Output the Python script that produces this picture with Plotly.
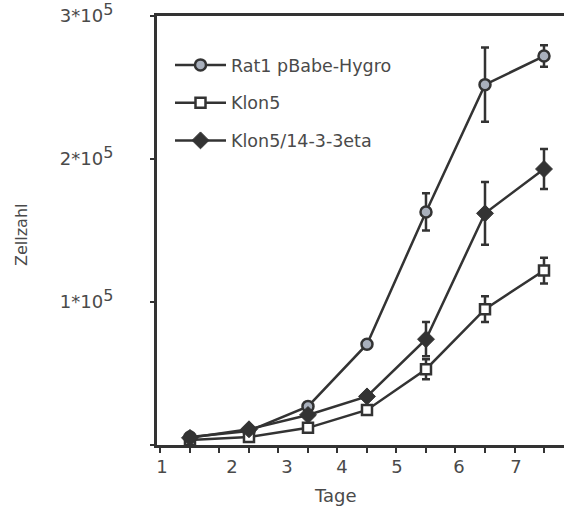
import plotly.graph_objects as go

days = [1, 2, 3, 4, 5, 6, 7]
tick_labels = ["1", "2", "3", "4", "5", "6", "7"]
y_tick_vals = [0, 100000, 200000, 300000]
SUP = '<sup><span style="font-size:16px">5</span></sup>'
y_tick_text = ["", "1*10" + SUP, "2*10" + SUP, "3*10" + SUP]

names = ["Rat1 pBabe-Hygro", "Klon5", "Klon5/14-3-3eta"]
rat1 = [5600, 9800, 27000, 70500, 163000, 252000, 272000]
rat1_err = [0, 0, 0, 0, 13000, 26000, 7500]
klon5 = [3500, 5600, 12000, 24500, 53000, 95000, 122000]
klon5_err = [0, 0, 0, 0, 7000, 9000, 9000]
klon5eta = [5000, 11000, 21000, 34000, 74000, 162000, 193000]
klon5eta_err = [0, 0, 0, 0, 12000, 22000, 14000]

LC = "#333333"
TXT = "#4a4a4a"
FONT = "DejaVu Sans"

fig = go.Figure()
series = [
    (names[0], rat1, rat1_err, dict(symbol="circle", size=11, color="#a9b0bc", line=dict(color=LC, width=2.5))),
    (names[1], klon5, klon5_err, dict(symbol="square", size=10, color="white", line=dict(color=LC, width=2.5))),
    (names[2], klon5eta, klon5eta_err, dict(symbol="diamond", size=13, color=LC, line=dict(color=LC, width=1))),
]
for i, (nm, ys, es, mk) in enumerate(series):
    fig.add_trace(go.Scatter(
        x=days, y=ys, name=nm, mode="lines+markers",
        line=dict(color=LC, width=2.5), marker=mk,
        error_y=dict(type="data", array=es, visible=True, color=LC, thickness=2.5, width=4),
        legendgroup=f"g{i}",
    ))

# label positions on the day axis (labels sit left of the tick marks)
label_pos = [0.525, 1.712, 2.644, 3.576, 4.508, 5.559, 6.525]

W, H = 564, 514
l, r, t, b = 157, 0, 16, 69
pw, ph = W - l - r, H - t - b
def px(xp): return (xp - l) / pw
def py(yp): return (H - b - yp) / ph

fig.update_layout(
    width=W, height=H,
    margin=dict(l=l, r=r, t=t, b=b, autoexpand=False),
    paper_bgcolor="white", plot_bgcolor="white",
    font=dict(family=FONT, color=TXT, size=16),
    showlegend=True,
    legend=dict(x=px(170), y=py(47), xanchor="left", yanchor="top",
                traceorder="grouped", tracegroupgap=12,
                font=dict(size=17.5, color=TXT, family=FONT),
                bgcolor="rgba(0,0,0,0)", itemwidth=51),
    xaxis=dict(range=[0.441, 7.339], showgrid=False, zeroline=False,
               showline=True, linecolor=LC, linewidth=3, mirror=True,
               tickvals=label_pos, ticktext=tick_labels, ticks="",
               ticklabelstandoff=3,
               tickfont=dict(size=18, color=TXT),
               minor=dict(ticks="outside", tick0=1, dtick=0.5, ticklen=5, tickwidth=2, tickcolor=LC)),
    yaxis=dict(range=[0, 300000], showgrid=False, zeroline=False,
               showline=True, linecolor=LC, linewidth=3,
               tickvals=y_tick_vals, ticktext=y_tick_text,
               ticks="outside", ticklen=4, tickwidth=2, tickcolor=LC,
               ticklabelstandoff=33, ticklabeloverflow="allow",
               tickfont=dict(size=18, color=TXT)),
)
fig.add_annotation(text="Tage", x=px(335), y=py(495), xref="paper", yref="paper",
                   showarrow=False, font=dict(size=18, color=TXT), xanchor="center", yanchor="middle")
fig.add_annotation(text="Zellzahl", textangle=-90, x=px(22), y=py(235), xref="paper", yref="paper",
                   showarrow=False, font=dict(size=16, color=TXT), xanchor="center", yanchor="middle")

fig.write_html("out.html", config={"displayModeBar": False},
               post_script="document.body.style.margin='0';")
